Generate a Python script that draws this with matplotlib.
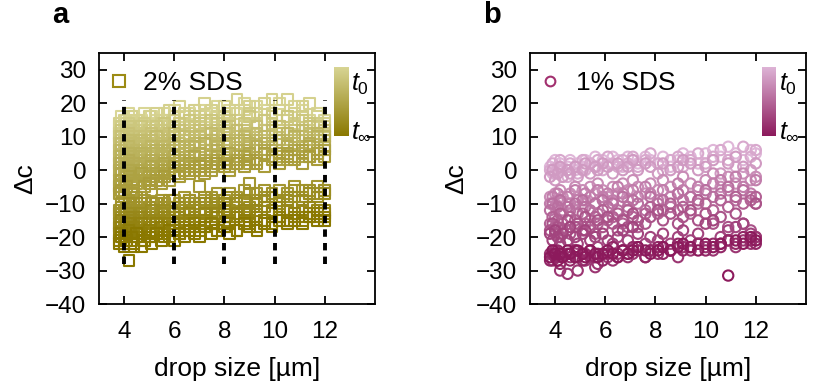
import numpy as np
import matplotlib
matplotlib.use("Agg")
import matplotlib.pyplot as plt
from matplotlib.colors import LinearSegmentedColormap
from matplotlib.lines import Line2D

plt.rcParams['font.family'] = ['Liberation Sans', 'DejaVu Sans']
plt.rcParams['mathtext.fontset'] = 'custom'
plt.rcParams['mathtext.rm'] = 'Liberation Sans'
plt.rcParams['mathtext.it'] = 'Liberation Sans:italic'

# --- panel a: 2% SDS, drop sizes and delta c per time step (t0 -> t_inf)
x_a = [3.8, 3.9, 4.0, 4.1, 4.2, 4.3, 4.4, 4.5, 4.7, 4.8, 5.0, 5.1, 5.3, 5.5, 5.6, 5.8, 6.0, 6.2, 6.4, 6.6,
       6.8, 7.0, 7.2, 7.5, 7.7, 8.0, 8.2, 8.5, 8.8, 9.0, 9.3, 9.6, 9.9, 10.2, 10.5, 10.8, 11.1, 11.4, 11.7, 12.0]
dc_a = [
    [13, 16, 12, 15, 17, 14, 16, 13, 15, 17, 14, 16, 15, 13, 17, 15, 18, 14, 16, 17,
     15, 18, 16, 17, 19, 15, 18, 17, 20, 16, 19, 18, 17, 20, 16, 19, 18, 15, 17, 15],
    [14, 12, 15, 13, 11, 16, 12, 15, 14, 12, 16, 13, 17, 15, 14, 18, 16, 19, 17, 15,
     18, 16, 20, 18, 16, 19, 17, 21, 18, 19, 17, 20, 21, 18, 21, 17, 19, 20, 16, 14],
    [11, 13, 10, 12, 14, 11, 13, 12, 10, 14, 12, 13, 11, 14, 12, 13, 15, 12, 14, 13,
     16, 13, 15, 14, 12, 16, 14, 15, 13, 17, 14, 15, 16, 13, 15, 14, 16, 12, 14, 13],
    [10, 12, 9, 11, 13, 10, 12, 11, 13, 10, 12, 11, 13, 12, 14, 11, 13, 14, 12, 15,
     13, 14, 12, 15, 14, 13, 15, 12, 14, 16, 13, 15, 14, 12, 16, 13, 15, 14, 13, 11],
    [8, 10, 7, 9, 11, 8, 10, 9, 7, 10, 9, 11, 8, 10, 9, 11, 10, 12, 9, 11,
     10, 12, 11, 9, 12, 11, 13, 10, 12, 11, 13, 12, 10, 13, 11, 12, 10, 13, 11, 12],
    [6, 8, 5, 7, 9, 6, 8, 7, 9, 8, 7, 9, 10, 8, 7, 9, 11, 8, 10, 9,
     8, 10, 9, 11, 10, 9, 11, 12, 10, 9, 11, 10, 12, 11, 9, 10, 12, 11, 9, 10],
    [4, 6, 3, 5, 7, 4, 5, 6, 3, 6, 5, 7, 4, 6, 7, 5, 8, 6, 7, 5,
     8, 7, 6, 9, 8, 7, 9, 8, 10, 7, 9, 10, 8, 9, 11, 8, 10, 9, 11, 10],
    [2, 4, 1, 3, 5, 2, 4, 3, 5, 4, 3, 5, 6, 4, 5, 6, 4, 7, 5, 6,
     7, 5, 8, 6, 7, 5, 8, 6, 9, 8, 6, 8, 7, 9, 8, 10, 7, 8, 10, 9],
    [0, 2, -1, 1, 3, 0, 2, 1, -1, 2, 1, 3, 2, 0, 3, 2, 4, 2, 3, 4,
     2, 5, 3, 4, 6, 3, 5, 4, 6, 5, 7, 5, 6, 4, 7, 6, 5, 8, 6, 7],
    [-3, -1, -4, -2, 0, -3, -1, -2, 0, -1, 0, 1, -1, 1, 2, 0, 2, 3, 1, 2,
     4, 2, 3, 1, 4, 3, 5, 2, 4, 5, 3, 6, 4, 5, 3, 6, 4, 7, 5, 6],
    [-5, -3, -6, -4, -2, -5, -3, -4, -1, -3, -2, -3, -1, -2, 0, -1, 1, -1, 0, 2,
     1, 0, 2, 1, 3, 2, 1, 3, 4, 2, 3, 5, 4, 3, 5, 4, 6, 4, 5, 6],
    [-7, -6, -8, -5, -9, -7, -6, -9, -8, -5, -4, -6, -3, -4, -2, -3, -1, -2, 0, -1,
     0, 1, -1, 0, 2, 1, 0, 2, 1, 3, 2, 1, 3, 2, 4, 3, 2, 4, 3, 4],
    [-12, -10, -13, -11, -9, -12, -10, -8, -11, -9, -12, -10, -11, -9, -10, -11, -9, -10, -8, -9,
     -10, -5, -9, -8, -7, -9, -7, -8, -6, -4, -7, -6, -8, -6, -7, -5, -6, -7, -5, -6],
    [-13, -11, -12, -14, -10, -13, -11, -12, -10, -12, -11, -13, -10, -12, -11, -9, -11, -12, -10, -9,
     -11, -10, -8, -10, -9, -11, -8, -9, -10, -7, -9, -8, -7, -9, -8, -6, -8, -6, -7, -6],
    [-16, -14, -15, -17, -13, -15, -14, -16, -13, -15, -14, -12, -14, -13, -12, -14, -13, -11, -13, -12,
     -11, -12, -10, -12, -11, -10, -12, -10, -9, -11, -10, -9, -8, -10, -9, -8, -9, -7, -8, -7],
    [-17, -15, -18, -16, -14, -17, -15, -17, -14, -16, -15, -17, -15, -16, -14, -15, -16, -14, -15, -13,
     -14, -15, -13, -14, -13, -12, -14, -13, -12, -13, -12, -11, -12, -11, -12, -13, -12, -11, -12, -12],
    [-19, -17, -20, -18, -16, -19, -17, -18, -16, -18, -17, -19, -16, -18, -17, -16, -17, -18, -16, -15,
     -17, -16, -15, -16, -14, -16, -15, -14, -16, -15, -14, -15, -13, -14, -15, -13, -14, -13, -14, -13],
    [-21, -19, -22, -20, -18, -21, -23, -20, -19, -21, -18, -20, -19, -17, -19, -20, -18, -19, -17, -18,
     -16, -18, -17, -16, -18, -17, -16, -18, -15, -16, -17, -15, -16, -14, -15, -14, -15, -14, -13, -14],
    [-22, -20, -23, -21, -27, -20, -22, -19, -23, -21, -20, -22, -19, -21, -20, -18, -21, -19, -20, -18,
     -19, -20, -17, -19, -18, -17, -19, -18, -16, -17, -18, -16, -17, -15, -16, -15, -16, -14, -15, -15],
]

# --- panel b: 1% SDS
x_b = [3.8, 3.9, 4.0, 4.1, 4.2, 4.3, 4.5, 4.6, 4.8, 4.9, 5.1, 5.2, 5.4, 5.6, 5.7, 5.9, 6.1, 6.3, 6.5, 6.7,
       6.9, 7.1, 7.3, 7.6, 7.8, 8.1, 8.3, 8.6, 8.9, 9.1, 9.4, 9.7, 10.0, 10.3, 10.6, 10.9, 11.2, 11.5, 11.8, 12.0]
dc_b = [
    [1, -1, 3, 0, 2, -2, 1, 3, 0, 2, 1, 3, 2, 4, 1, 3, 2, 4, 3, 1,
     4, 3, 2, 4, 3, 2, 4, 1, 3, 5, 4, 2, 5, 6, 4, 7, 5, 3, 6, 5],
    [0, 2, -1, 1, 3, 0, -2, 2, 1, -1, 3, 0, 2, 1, 3, 0, 4, 2, 1, 3,
     2, 4, 1, 3, 5, 2, 0, 3, 4, 1, 3, 5, 2, 4, 6, 3, 1, 7, 4, 6],
    [-2, 0, -3, -1, 1, -2, 0, -1, 1, -2, 0, 2, -1, 1, 0, 2, 1, -1, 2, 0,
     1, 3, 0, 2, 1, -1, 2, 0, 1, 3, 2, 0, 1, 3, -1, 2, 4, 1, 0, 2],
    [-8, -10, -7, -9, -6, -8, -10, -7, -5, -8, -6, -9, -5, -7, -4, -6, -8, -5, -7, -4,
     -6, -3, -5, -7, -4, -6, -3, -5, -7, -2, -4, -6, -3, -1, -5, -2, -4, -1, -3, -2],
    [-10, -8, -11, -7, -9, -12, -8, -10, -6, -9, -11, -7, -8, -10, -6, -8, -7, -9, -5, -7,
     -9, -6, -8, -5, -7, -9, -6, -8, -4, -6, -8, -5, -7, -4, -3, -6, -2, -5, -7, -3],
    [-12, -10, -14, -11, -9, -13, -11, -12, -10, -13, -9, -11, -12, -10, -13, -9, -11, -10, -12, -8,
     -11, -9, -10, -12, -8, -10, -9, -11, -7, -9, -8, -10, -6, -8, -7, -5, -9, -6, -8, -10],
    [-16, -14, -17, -15, -13, -16, -18, -14, -15, -17, -13, -16, -15, -14, -16, -12, -15, -14, -13, -16,
     -12, -14, -17, -13, -11, -13, -12, -10, -12, -11, -13, -9, -10, -12, -9, -11, -8, -10, -9, -8],
    [-18, -16, -19, -17, -20, -18, -15, -19, -17, -16, -18, -14, -17, -19, -15, -17, -14, -16, -18, -15,
     -17, -13, -15, -16, -14, -12, -15, -13, -16, -14, -12, -15, -13, -16, -14, -17, -13, -16, -18, -10],
    [-19, -21, -18, -20, -22, -19, -21, -17, -20, -22, -19, -18, -21, -20, -23, -19, -21, -22, -20, -18,
     -21, -17, -19, -22, -20, -21, -19, -22, -20, -18, -21, -19, -16, -15, -20, -18, -17, -16, -19, -20],
    [-25, -27, -24, -26, -30, -25, -31, -26, -24, -30, -25, -27, -26, -29, -28, -25, -26, -27, -25, -24,
     -26, -25, -23, -26, -24, -25, -23, -24, -26, -23, -24, -22, -23, -24, -22, -21, -23, -21, -22, -20],
    [-27, -25, -26, -24, -28, -26, -25, -27, -24, -26, -27, -25, -24, -26, -25, -27, -25, -23, -26, -24,
     -25, -23, -24, -26, -24, -23, -25, -24, -22, -24, -23, -22, -24, -22, -23, -21, -22, -20, -21, -22],
    [-26, -24, -25, -27, -25, -26, -24, -25, -26, -24, -25, -26, -24, -25, -26, -25, -24, -25, -26, -24,
     -25, -24, -23, -24, -25, -24, -23, -24, -23, -22, -23, -24, -22, -23, -22, -31.5, -21, -22, -20, -21],
]

dash_x = [4, 6, 8, 10, 12]

cmap_a = LinearSegmentedColormap.from_list('olive', ['#d9d696', '#8a7800'])
cmap_b = LinearSegmentedColormap.from_list('plum', ['#dfb6d8', '#8c1a5c'])

fig = plt.figure(figsize=(8.31, 3.89), dpi=100)
ax_a = fig.add_axes([0.1191, 0.2185, 0.3321, 0.6452])
ax_b = fig.add_axes([0.6378, 0.2185, 0.3321, 0.6452])


def style_axes(ax):
    ax.set_xlim(3, 14)
    ax.set_ylim(-40, 35)
    ax.set_xticks([4, 6, 8, 10, 12])
    ax.set_yticks(range(-40, 31, 10))
    ax.tick_params(direction='in', top=True, right=True, length=6, width=1.3,
                   labelsize=17.5, pad=9)
    ax.tick_params(axis='x', pad=12)
    for s in ax.spines.values():
        s.set_linewidth(1.3)
    ax.set_xlabel('drop size [µm]', fontsize=19, labelpad=10)
    ax.set_ylabel('Δc', fontsize=19, labelpad=6)


def add_bar(ax, cmap, rect):
    cax = ax.inset_axes(rect)
    grad = np.linspace(0, 1, 256).reshape(-1, 1)
    cax.imshow(grad, cmap=cmap, aspect='auto')
    cax.set_axis_off()
    x0 = rect[0] + rect[2] + 0.012
    ax.text(x0, rect[1] + rect[3] - 0.07, '$t_0$', transform=ax.transAxes,
            fontsize=18, va='center', ha='left')
    ax.text(x0, rect[1] + 0.02, r'$t_\infty$', transform=ax.transAxes,
            fontsize=18, va='center', ha='left')


# panel a
n = len(dc_a)
for i, y in enumerate(dc_a):
    ax_a.scatter(x_a, y, s=60, marker='s', facecolors='none',
                 edgecolors=[cmap_a(i / (n - 1))], linewidths=1.5, zorder=2 + i * 0.01)
for xv in dash_x:
    ax_a.plot([xv, xv], [-28, 21], color='black', lw=2.8, ls=(0, (1.9, 1.6)), zorder=5)
style_axes(ax_a)
h = Line2D([], [], marker='s', ls='', mfc='none', mec='#9c8b14', mew=1.5, ms=8, label='2% SDS')
ax_a.legend(handles=[h], loc='upper left', bbox_to_anchor=(0.0, 0.975), frameon=False, fontsize=19,
            handletextpad=0.6, handlelength=0.6, borderaxespad=0.25, borderpad=0.2)
add_bar(ax_a, cmap_a, [0.851, 0.669, 0.051, 0.275])
ax_a.text(-0.17, 1.12, 'a', transform=ax_a.transAxes, fontsize=21, fontweight='bold')

# panel b
n = len(dc_b)
for i, y in enumerate(dc_b):
    ax_b.scatter(x_b, y, s=55, marker='o', facecolors='none',
                 edgecolors=[cmap_b(i / (n - 1))], linewidths=1.5, zorder=2 + i * 0.01)
style_axes(ax_b)
h = Line2D([], [], marker='o', ls='', mfc='none', mec='#a2306f', mew=1.5, ms=7, label='1% SDS')
ax_b.legend(handles=[h], loc='upper left', bbox_to_anchor=(0.0, 0.975), frameon=False, fontsize=19,
            handletextpad=0.7, handlelength=0.6, borderaxespad=0.25, borderpad=0.2)
add_bar(ax_b, cmap_b, [0.841, 0.669, 0.048, 0.275])
ax_b.text(-0.17, 1.12, 'b', transform=ax_b.transAxes, fontsize=21, fontweight='bold')

fig.savefig('out.png', dpi=100)
